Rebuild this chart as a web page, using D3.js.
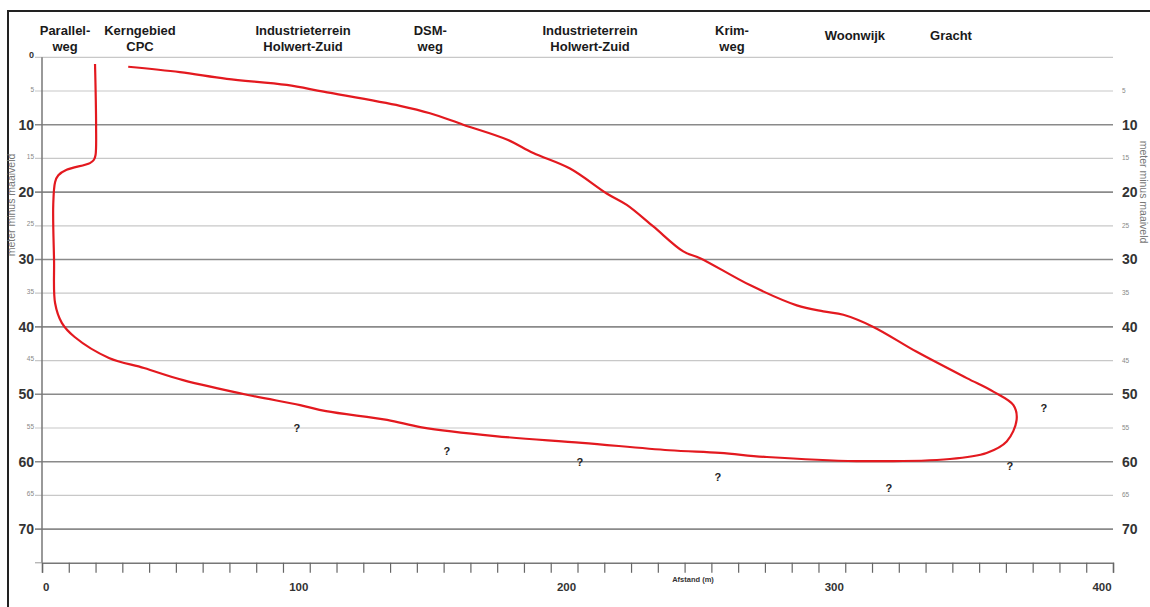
<!DOCTYPE html>
<html>
<head>
<meta charset="utf-8">
<script src="https://cdn.jsdelivr.net/npm/d3@7"></script>
<style>
  html, body { margin: 0; padding: 0; background: #fff; }
  svg { display: block; font-family: "Liberation Sans", Arial, sans-serif; }
</style>
</head>
<body>
<svg id="chart" width="1150" height="607"></svg>
<script>
// ---- Data ----
// Contour of the contamination plume: [distance (m), depth (m below surface)]
const plumeDistance = [19.8, 20.2, 20.0, 19.4, 17.9, 9.2, 6.1, 4.9, 4.2, 4.5, 4.9, 7.4, 12.2, 25.0, 38.1, 52.7, 76.9, 96.4, 106.1, 128.9, 141.8, 169.2, 201.7, 234.2, 253.2, 270.7, 304.3, 339.1, 352.8, 360.3, 364.0, 362.8, 355.3, 345.4, 326.7, 310.5, 299.3, 291.8, 281.9, 264.4, 245.8, 239.5, 228.3, 218.4, 210.9, 197.2, 183.5, 173.6, 157.3, 144.9, 133.7, 105.1, 91.4, 69.0, 51.5, 32.2];
const plumeDepth = [1.0, 10.0, 14.5, 15.2, 15.7, 16.7, 17.5, 18.5, 21.9, 30.1, 36.5, 39.4, 41.5, 44.6, 46.1, 47.9, 50.1, 51.6, 52.5, 53.8, 54.9, 56.2, 57.2, 58.3, 58.7, 59.3, 59.9, 59.6, 58.7, 57.0, 53.8, 51.6, 49.6, 47.6, 43.7, 40.0, 38.2, 37.7, 36.8, 33.8, 29.8, 28.8, 25.1, 21.9, 20.2, 16.5, 14.2, 12.2, 10.0, 8.3, 7.2, 5.1, 4.1, 3.2, 2.2, 1.4];

// Place names along the profile (distance in m)
const placeNames = [["Parallel-", "weg"], ["Kerngebied", "CPC"], ["Industrieterrein", "Holwert-Zuid"], ["DSM-", "weg"], ["Industrieterrein", "Holwert-Zuid"], ["Krim-", "weg"], ["Woonwijk"], ["Gracht"]];
const placeDistance = [8.6, 36.6, 97.5, 145, 204.7, 257.7, 303.6, 339.5];

// Question marks (unknown plume boundary)
const questionDistance = [95.2, 151.2, 200.9, 252.4, 316.3, 361.5, 374.2];
const questionDepth = [55.0, 58.4, 60.1, 62.3, 63.9, 60.6, 52.0];

// Axis ticks
const depthTicks = [0, 5, 10, 15, 20, 25, 30, 35, 40, 45, 50, 55, 60, 65, 70];
const distanceTickLabels = [0, 100, 200, 300, 400];
const distanceMinorStep = 10;
const xLabel = "Afstand (m)";
const yLabel = "meter minus maaiveld";

// ---- Layout ----
const svg = d3.select("#chart");
const x = d3.scaleLinear().domain([0, 400]).range([42, 1113]);
const y = d3.scaleLinear().domain([0, 75]).range([57.3, 562.8]);

// Frame
svg.append("line").attr("x1", 8).attr("x2", 1150).attr("y1", 11).attr("y2", 11)
  .attr("stroke", "#222").attr("stroke-width", 2);
svg.append("line").attr("x1", 8).attr("x2", 8).attr("y1", 10).attr("y2", 607)
  .attr("stroke", "#222").attr("stroke-width", 2);

// Gridlines
svg.append("g").selectAll("line").data(depthTicks).join("line")
  .attr("x1", 35).attr("x2", x(400))
  .attr("y1", d => y(d)).attr("y2", d => y(d))
  .attr("stroke", d => d % 10 === 0 && d !== 0 ? "#8a8a8a" : "#c8c8c8")
  .attr("stroke-width", d => d % 10 === 0 && d !== 0 ? 1.6 : 1.2);

// Left axis line
svg.append("line").attr("x1", x(0)).attr("x2", x(0)).attr("y1", y(0)).attr("y2", y(75))
  .attr("stroke", "#777").attr("stroke-width", 1.5);
svg.append("line").attr("x1", 35).attr("x2", x(0)).attr("y1", y(75)).attr("y2", y(75))
  .attr("stroke", "#999").attr("stroke-width", 1);

// Bottom axis
const xAxis = d3.axisBottom(x)
  .tickValues(d3.range(0, 401, distanceMinorStep))
  .tickSize(10).tickFormat("");
const gx = svg.append("g").attr("transform", `translate(0,${y(75)})`).call(xAxis);
gx.select(".domain").attr("stroke", "#777").attr("stroke-width", 1.5);
gx.selectAll(".tick line").attr("stroke", "#666").attr("stroke-width", 1.2);

svg.append("g").selectAll("text").data(distanceTickLabels).join("text")
  .attr("x", d => d === 0 ? x(d) + 1 : x(d) - 11)
  .attr("y", 591)
  .attr("text-anchor", d => d === 0 ? "start" : "middle")
  .attr("font-size", 11.5).attr("font-weight", "bold").attr("fill", "#333")
  .text(d => d);

svg.append("text").attr("x", 693).attr("y", 582)
  .attr("text-anchor", "middle").attr("font-size", 7.5).attr("font-weight", "bold")
  .attr("fill", "#333").text(xLabel);

// Left depth labels
svg.append("g").selectAll("text").data(depthTicks).join("text")
  .attr("x", 34)
  .attr("y", d => y(d))
  .attr("dy", d => d % 10 === 0 && d !== 0 ? "0.35em" : "0.1em")
  .attr("text-anchor", "end")
  .attr("font-size", d => d === 0 ? 9 : (d % 10 === 0 ? 14 : 6.5))
  .attr("font-weight", d => d % 10 === 0 ? "bold" : "normal")
  .attr("fill", d => d % 10 === 0 ? "#333" : "#888")
  .text(d => d);

// Right depth labels
svg.append("g").selectAll("text").data(depthTicks.filter(d => d > 0)).join("text")
  .attr("x", 1122)
  .attr("y", d => y(d))
  .attr("dy", d => d % 10 === 0 ? "0.35em" : "0.3em")
  .attr("text-anchor", "start")
  .attr("font-size", d => d % 10 === 0 ? 14 : 6.5)
  .attr("font-weight", d => d % 10 === 0 ? "bold" : "normal")
  .attr("fill", d => d % 10 === 0 ? "#333" : "#888")
  .text(d => d);

// Axis titles
svg.append("text").attr("transform", "translate(15,205) rotate(-90)")
  .attr("text-anchor", "middle").attr("font-size", 10.5).attr("fill", "#777").text(yLabel);
svg.append("text").attr("transform", "translate(1140,192) rotate(90)")
  .attr("text-anchor", "middle").attr("font-size", 10.5).attr("fill", "#777").text(yLabel);

// Place names
const places = svg.append("g").selectAll("text").data(placeNames).join("text")
  .attr("x", (d, i) => x(placeDistance[i]))
  .attr("y", d => d.length === 1 ? 40 : 35)
  .attr("text-anchor", "middle").attr("font-size", 13).attr("font-weight", "bold")
  .attr("fill", "#1a1a1a");
places.selectAll("tspan").data(d => d).join("tspan")
  .attr("x", function() { return d3.select(this.parentNode).attr("x"); })
  .attr("dy", (d, i) => i === 0 ? 0 : 16)
  .text(d => d);

// Plume contour
const plume = plumeDistance.map((d, i) => [d, plumeDepth[i]]);
svg.append("path").datum(plume)
  .attr("d", d3.line().x(d => x(d[0])).y(d => y(d[1])).curve(d3.curveCatmullRom.alpha(0.5)))
  .attr("fill", "none").attr("stroke", "#e3191f").attr("stroke-width", 2.2)
  .attr("stroke-linejoin", "round");

// Question marks
svg.append("g").selectAll("text").data(questionDistance).join("text")
  .attr("x", d => x(d))
  .attr("y", (d, i) => y(questionDepth[i]))
  .attr("dy", "0.35em")
  .attr("text-anchor", "middle").attr("font-size", 11).attr("font-weight", "bold")
  .attr("fill", "#222").text("?");
</script>
</body>
</html>
